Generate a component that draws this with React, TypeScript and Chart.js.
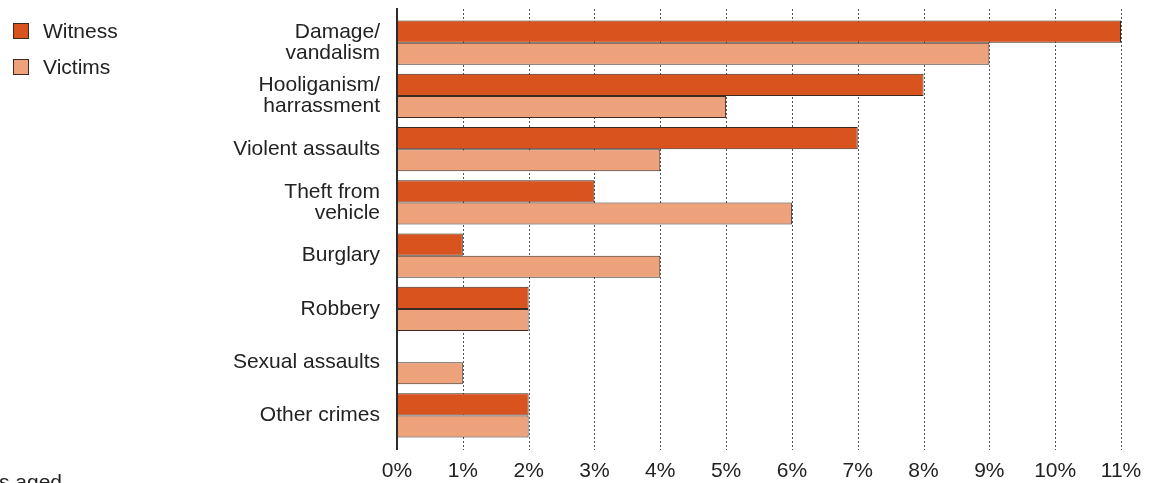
import React, { useEffect, useRef } from "react";
import { Chart, registerables } from "chart.js";

Chart.register(...registerables);

const categories: (string | string[])[] = [
  ["Damage/", "vandalism"],
  ["Hooliganism/", "harrassment"],
  "Violent assaults",
  ["Theft from", "vehicle"],
  "Burglary",
  "Robbery",
  "Sexual assaults",
  "Other crimes",
];
const witness = [11, 8, 7, 3, 1, 2, 0, 2];
const victims = [9, 5, 4, 6, 4, 2, 1, 2];
const tickValues = [0, 1, 2, 3, 4, 5, 6, 7, 8, 9, 10, 11];

const WITNESS_COLOR = "#D9531F";
const VICTIMS_COLOR = "#EDA27C";
const BORDER = "#3b2a22";
const FONT = "'Liberation Sans', Arial, Helvetica, sans-serif";

const gridPlugin = {
  id: "customGrid",
  beforeDatasetsDraw(chart: any) {
    const { ctx, scales } = chart;
    const x = scales.x;
    ctx.save();
    ctx.strokeStyle = "#555";
    ctx.lineWidth = 1;
    ctx.setLineDash([2, 2]);
    for (const v of tickValues) {
      if (v === 0) continue;
      const px = Math.round(x.getPixelForValue(v)) + 0.5;
      ctx.beginPath();
      ctx.moveTo(px, 9);
      ctx.lineTo(px, 450);
      ctx.stroke();
    }
    ctx.restore();
  },
  afterDatasetsDraw(chart: any) {
    const { ctx, scales } = chart;
    const px = scales.x.getPixelForValue(0);
    ctx.save();
    ctx.strokeStyle = "#2b2b2b";
    ctx.lineWidth = 2;
    ctx.beginPath();
    ctx.moveTo(px, 8);
    ctx.lineTo(px, 450);
    ctx.stroke();
    ctx.restore();
  },
};

export default function App() {
  const ref = useRef<HTMLCanvasElement | null>(null);
  useEffect(() => {
    if (!ref.current) return;
    const chart = new Chart(ref.current, {
      type: "bar",
      data: {
        labels: categories,
        datasets: [
          {
            label: "Witness",
            data: witness,
            backgroundColor: WITNESS_COLOR,
            borderColor: BORDER,
            borderWidth: 1,
            borderSkipped: false,
          },
          {
            label: "Victims",
            data: victims,
            backgroundColor: VICTIMS_COLOR,
            borderColor: BORDER,
            borderWidth: 1,
            borderSkipped: false,
          },
        ],
      },
      options: {
        indexAxis: "y",
        animation: false,
        responsive: false,
        devicePixelRatio: 1,
        layout: { padding: { top: 16, right: 37, left: 0, bottom: 0 } },
        datasets: { bar: { categoryPercentage: 0.83, barPercentage: 1 } },
        plugins: { legend: { display: false }, tooltip: { enabled: false } },
        scales: {
          x: {
            min: 0,
            max: 11,
            grid: { display: false, drawTicks: false },
            border: { display: false },
            afterFit(scale: any) {
              scale.height = 41;
              scale.paddingLeft = 0;
              scale.paddingRight = 0;
            },
            afterBuildTicks(scale: any) {
              scale.ticks = tickValues.map((v) => ({ value: v }));
            },
            ticks: {
              padding: 17,
              color: "#222",
              font: { family: FONT, size: 21 },
              callback: (v: any) => `${v}%`,
              maxRotation: 0,
              autoSkip: false,
            },
          },
          y: {
            grid: { display: false, drawTicks: false },
            border: { display: false },
            afterFit(scale: any) {
              scale.width = 397;
              scale.paddingTop = 0;
              scale.paddingBottom = 0;
            },
            ticks: {
              padding: 17,
              color: "#222",
              font: { family: FONT, size: 21, lineHeight: "21px" },
              autoSkip: false,
            },
          },
        },
      },
      plugins: [gridPlugin],
    });
    return () => chart.destroy();
  }, []);

  const legendItem = (top: number, color: string, text: string) => (
    <div style={{ position: "absolute", left: 13, top, height: 16, display: "flex", alignItems: "center" }}>
      <div style={{ width: 14, height: 14, background: color, border: `1px solid ${BORDER}` }} />
      <span style={{ marginLeft: 14, fontFamily: FONT, fontSize: 21, color: "#222", lineHeight: "16px" }}>{text}</span>
    </div>
  );

  return (
    <div style={{ position: "absolute", left: 0, top: 0, width: 1158, height: 483, overflow: "hidden", background: "#fff" }}>
      <canvas ref={ref} width={1158} height={483} style={{ position: "absolute", left: 0, top: 0, width: 1158, height: 483 }} />
      {legendItem(23, WITNESS_COLOR, "Witness")}
      {legendItem(59, VICTIMS_COLOR, "Victims")}
      <div style={{ position: "absolute", left: -1, top: 471, fontFamily: FONT, fontSize: 21, color: "#222", lineHeight: "21px", whiteSpace: "nowrap" }}>s aged</div>
    </div>
  );
}
